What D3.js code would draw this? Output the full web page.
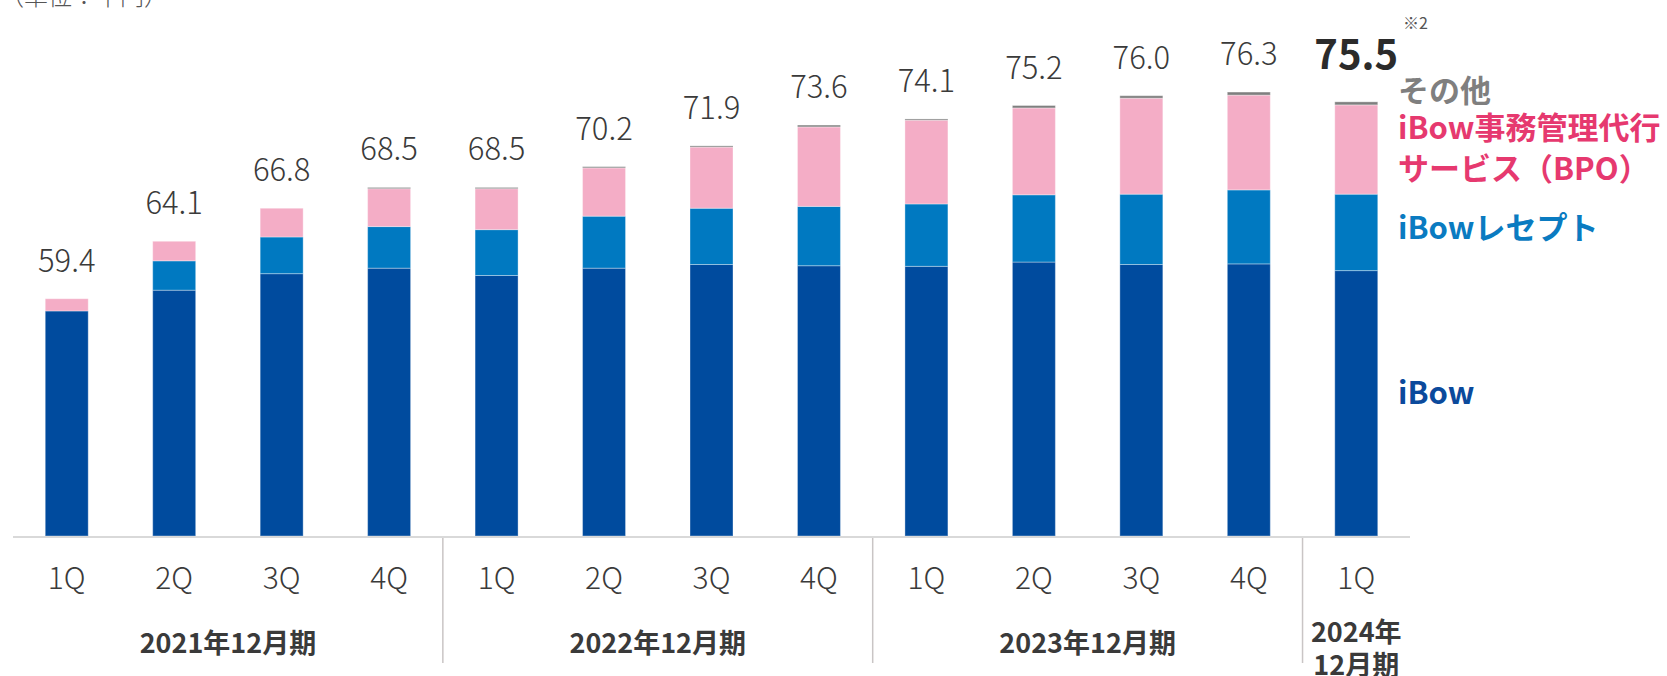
<!DOCTYPE html>
<html lang="ja">
  <head>
    <meta charset="utf-8">
    <title>ARPU推移</title>
    <script src="https://d3js.org/d3.v7.min.js"></script>
    <style>
      body {
        margin: 0;
        background-color: white;
      }
      svg {
        display: block;
        background-color: white;
        font-family: "Noto Sans CJK JP", "Noto Sans", sans-serif;
      }
      .val { font-weight: 300; font-size: 31px; fill: #3a3a3a; }
      .qlabel { font-weight: 300; font-size: 30px; fill: #3a3a3a; }
      .period { font-weight: 700; font-size: 27px; fill: #3a3a3a; }
      .legend { font-weight: 700; font-size: 31px; }
    </style>
  </head>
  <body>
    <script>
      var w = 1667;
      var h = 676;

      // data
      const quarters = ["1Q", "2Q", "3Q", "4Q", "1Q", "2Q", "3Q", "4Q", "1Q", "2Q", "3Q", "4Q", "1Q"];
      const ibow    = [58.4, 60.1, 61.45, 61.9, 61.3, 61.9, 62.2, 62.1, 62.05, 62.4, 62.2, 62.25, 61.7];
      const receipt = [0, 2.4, 3.0, 3.4, 3.75, 4.25, 4.6, 4.85, 5.1, 5.5, 5.75, 6.05, 6.25];
      const bpo     = [1.0, 1.6, 2.35, 3.1, 3.35, 3.95, 5.0, 6.5, 6.85, 7.1, 7.85, 7.75, 7.3];
      const other   = [0, 0, 0, 0.1, 0.1, 0.1, 0.1, 0.15, 0.1, 0.2, 0.2, 0.25, 0.25];
      const totals  = [59.4, 64.1, 66.8, 68.5, 68.5, 70.2, 71.9, 73.6, 74.1, 75.2, 76.0, 76.3, 75.5];
      const periodLabels = [["2021年12月期"], ["2022年12月期"], ["2023年12月期"], ["2024年", "12月期"]];
      const periodSizes = [4, 4, 4, 1];

      const keys = ["ibow", "receipt", "bpo", "other"];
      const colors = { ibow: "#004b9e", receipt: "#0079c1", bpo: "#f4adc6", other: "#7f7f7f" };

      const rows = quarters.map((q, i) => ({
        idx: i, q: q, ibow: ibow[i], receipt: receipt[i], bpo: bpo[i], other: other[i], total: totals[i]
      }));

      let svg = d3.select("body").append("svg")
        .attr("width", w)
        .attr("height", h);

      let x = d3.scaleBand()
        .domain(rows.map(d => d.idx))
        .range([13, 1410])
        .paddingInner(0.6)
        .paddingOuter(0.3);

      let y = d3.scaleLinear()
        .domain([40, 80])
        .range([536, 536 - 40 * 12.23])
        .clamp(true);

      let series = d3.stack().keys(keys)(rows);

      // bars
      svg.append("g").selectAll("g")
        .data(series)
        .enter().append("g")
        .attr("fill", d => colors[d.key])
        .selectAll("rect")
        .data(d => d)
        .enter().append("rect")
        .attr("x", d => x(d.data.idx))
        .attr("width", x.bandwidth())
        .attr("y", d => y(d[1]))
        .attr("height", d => Math.max(0, y(d[0]) - y(d[1])))
        .attr("stroke", "#ffffff")
        .attr("stroke-opacity", 0.35)
        .attr("stroke-width", 1);

      // baseline
      svg.append("line")
        .attr("x1", 13).attr("x2", 1410)
        .attr("y1", 537).attr("y2", 537)
        .attr("stroke", "#d9d9d9")
        .attr("stroke-width", 2);

      // total labels
      svg.append("g").selectAll("text")
        .data(rows)
        .enter().append("text")
        .attr("class", "val")
        .attr("text-anchor", "middle")
        .attr("x", d => x(d.idx) + x.bandwidth() / 2)
        .attr("y", d => d.idx === rows.length - 1 ? y(d.total) - 33 : y(d.total) - 27)
        .style("font-weight", d => d.idx === rows.length - 1 ? 700 : null)
        .style("font-size", d => d.idx === rows.length - 1 ? "40px" : null)
        .style("fill", d => d.idx === rows.length - 1 ? "#2b2b2b" : null)
        .text(d => d.total.toFixed(1));

      // note mark
      svg.append("text")
        .attr("x", 1403).attr("y", 29)
        .attr("font-size", 16)
        .attr("fill", "#555")
        .text("※2");

      // quarter labels
      svg.append("g").selectAll("text")
        .data(rows)
        .enter().append("text")
        .attr("class", "qlabel")
        .attr("text-anchor", "middle")
        .attr("x", d => x(d.idx) + x.bandwidth() / 2)
        .attr("y", 589)
        .text(d => d.q);

      // period groups
      let start = 0;
      let step = x.step();
      periodSizes.forEach((n, i) => {
        let x0 = 13 + start * step;
        let x1 = 13 + (start + n) * step;
        if (i > 0) {
          svg.append("line")
            .attr("x1", x0).attr("x2", x0)
            .attr("y1", 538).attr("y2", 663)
            .attr("stroke", "#c9c5c5")
            .attr("stroke-width", 1.5);
        }
        let lines = periodLabels[i];
        let t = svg.append("text")
          .attr("class", "period")
          .attr("text-anchor", "middle");
        lines.forEach((s, j) => {
          t.append("tspan")
            .attr("x", (x0 + x1) / 2)
            .attr("y", lines.length === 1 ? 653 : 642 + j * 33)
            .text(s);
        });
        start += n;
      });

      // unit
      svg.append("text")
        .attr("x", 0).attr("y", 5)
        .attr("font-size", 24)
        .attr("font-weight", 300)
        .attr("fill", "#555")
        .text("（単位：千円）");

      // legend labels
      const legend = [
        { text: "その他", y: 102, color: "#7f7f7f" },
        { text: "iBow事務管理代行", y: 139, color: "#e6396f" },
        { text: "サービス（BPO）", y: 180, color: "#e6396f" },
        { text: "iBowレセプト", y: 239, color: "#0a7bc1" },
        { text: "iBow", y: 404, color: "#0b4a9c" }
      ];
      svg.append("g").selectAll("text")
        .data(legend)
        .enter().append("text")
        .attr("class", "legend")
        .attr("x", 1398)
        .attr("y", d => d.y)
        .attr("fill", d => d.color)
        .text(d => d.text);
    </script>
  </body>
</html>
